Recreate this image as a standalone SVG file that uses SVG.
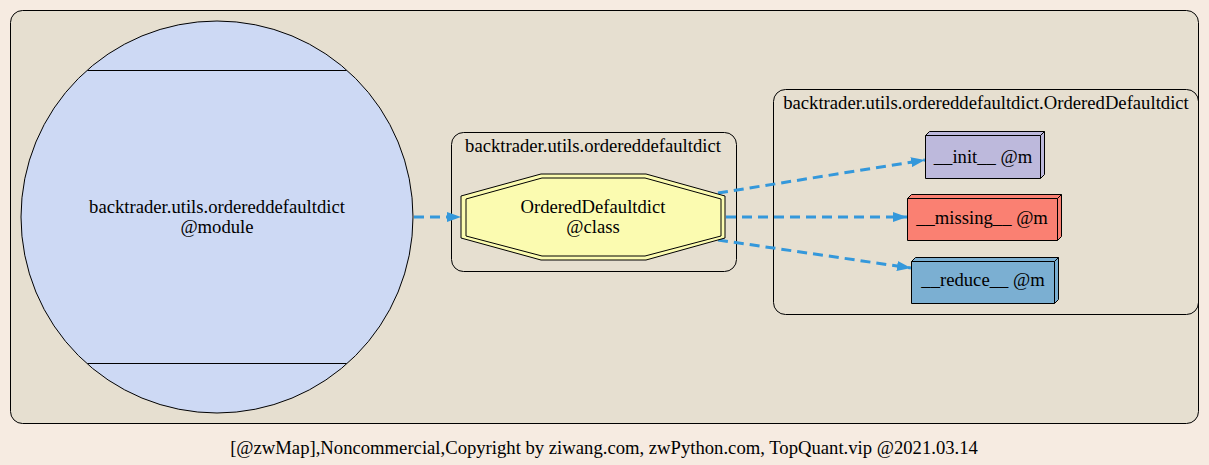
<svg xmlns="http://www.w3.org/2000/svg" width="1209" height="465" viewBox="0 0 1209 465">
<style>
text{font-family:"Liberation Serif","Times New Roman",serif;font-size:18.67px;text-anchor:middle;fill:#000}
.cl{fill:none;stroke:#000;stroke-width:1}
.e{fill:none;stroke:#3498db;stroke-width:3;stroke-dasharray:10,6}
.nd{stroke:#000;stroke-width:1}
</style>
<defs>
<marker id="ah" markerWidth="14" markerHeight="10" refX="14" refY="5" orient="auto" markerUnits="userSpaceOnUse">
<path d="M0,0 L14,5 L0,10 Z" fill="#3498db"/>
</marker>
</defs>
<rect width="1209" height="465" fill="#f6ebe1"/>
<g id="cluster_outer">
<rect x="10.5" y="10.5" width="1188" height="413" rx="12" fill="#e6dfd0" stroke="#000"/>
</g>
<g id="cluster_module">
<rect x="451.5" y="132.5" width="285" height="139" rx="12" class="cl"/>
<text x="593" y="152">backtrader.utils.ordereddefaultdict</text>
</g>
<g id="cluster_class">
<rect x="773.5" y="89.5" width="425" height="225" rx="12" class="cl"/>
<text x="986" y="109">backtrader.utils.ordereddefaultdict.OrderedDefaultdict</text>
</g>
<g id="connectors">
<path class="e" d="M414,217 L461,217" marker-end="url(#ah)"/>
<path class="e" d="M718,193 L925,160" marker-end="url(#ah)"/>
<path class="e" d="M726,217 L907,217" marker-end="url(#ah)"/>
<path class="e" d="M718,240 L911,268" marker-end="url(#ah)"/>
</g>
<g id="node_module">
<circle cx="217" cy="217" r="196" fill="#cdd9f4" class="nd"/>
<line x1="87.5" y1="70.5" x2="346.5" y2="70.5" class="nd"/>
<line x1="87.5" y1="363.5" x2="346.5" y2="363.5" class="nd"/>
<text x="217" y="213">backtrader.utils.ordereddefaultdict</text>
<text x="217" y="233">@module</text>
</g>
<g id="node_class">
<polygon points="461,196 541,174 646,174 725,196 725,238 646,260 541,260 461,238" fill="#fbfbb0" class="nd"/>
<polygon points="466,199 542,178 645,178 721,199 721,236 645,256 542,256 466,236" fill="#fbfbb0" class="nd"/>
<text x="593" y="213">OrderedDefaultdict</text>
<text x="593" y="233">@class</text>
</g>
<g id="node_init">
<polygon points="925.5,135.5 929.5,131.5 1044.5,131.5 1044.5,174.5 1040.5,178.5 925.5,178.5" fill="#bdb9dc" class="nd"/>
<polyline points="925.5,135.5 1040.5,135.5 1044.5,131.5" fill="none" class="nd"/>
<line x1="1040.5" y1="135.5" x2="1040.5" y2="178.5" class="nd"/>
<text x="983" y="163">__init__ @m</text>
</g>
<g id="node_missing">
<polygon points="907.5,198.5 911.5,194.5 1061.5,194.5 1061.5,236.5 1057.5,240.5 907.5,240.5" fill="#fa8072" class="nd"/>
<polyline points="907.5,198.5 1057.5,198.5 1061.5,194.5" fill="none" class="nd"/>
<line x1="1057.5" y1="198.5" x2="1057.5" y2="240.5" class="nd"/>
<text x="982" y="224">__missing__ @m</text>
</g>
<g id="node_reduce">
<polygon points="911.5,261.5 915.5,257.5 1058.5,257.5 1058.5,299.5 1054.5,303.5 911.5,303.5" fill="#7bafd2" class="nd"/>
<polyline points="911.5,261.5 1054.5,261.5 1058.5,257.5" fill="none" class="nd"/>
<line x1="1054.5" y1="261.5" x2="1054.5" y2="303.5" class="nd"/>
<text x="983" y="286">__reduce__ @m</text>
</g>
<text x="604" y="454">[@zwMap],Noncommercial,Copyright by ziwang.com, zwPython.com, TopQuant.vip @2021.03.14</text>
</svg>
